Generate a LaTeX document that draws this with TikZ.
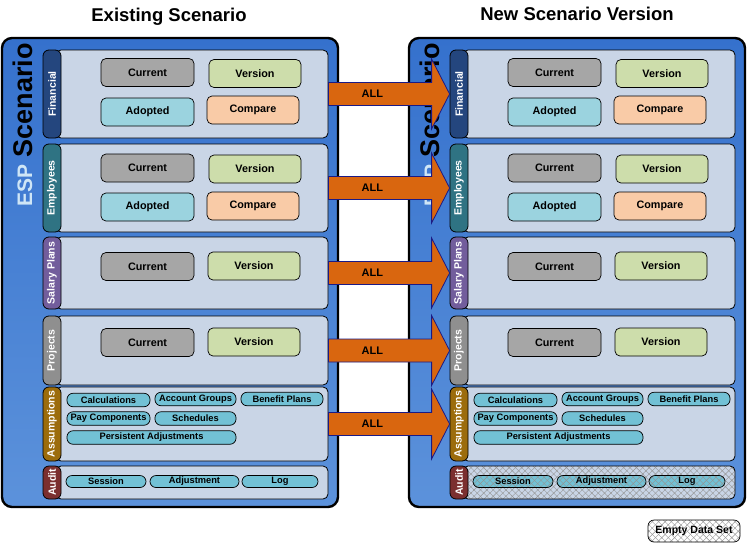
\documentclass[tikz,border=0pt]{standalone}
\usepackage{fontspec}
\setmainfont{Liberation Sans}
\usetikzlibrary{patterns.meta,calc}
\definecolor{espTop}{HTML}{3571CD}
\definecolor{espBot}{HTML}{5C92DB}
\definecolor{espLight}{HTML}{CFE6F6}
\definecolor{panelC}{HTML}{C9D5E6}
\definecolor{curC}{HTML}{A6A6A6}
\definecolor{adoC}{HTML}{9BD3DF}
\definecolor{verC}{HTML}{CDDDAB}
\definecolor{cmpC}{HTML}{F9CBA7}
\definecolor{pillC}{HTML}{72C1D5}
\definecolor{finC}{HTML}{24467E}
\definecolor{empC}{HTML}{2F7383}
\definecolor{salC}{HTML}{725D9C}
\definecolor{proC}{HTML}{8F8F8F}
\definecolor{assC}{HTML}{9C6C0C}
\definecolor{audC}{HTML}{7B2F2F}
\definecolor{arrowC}{HTML}{D9660F}
\definecolor{arrowEdge}{HTML}{1A1A86}
\begin{document}
\begin{tikzpicture}[x=1pt,y=-1pt,
 outer/.style={draw=black,line width=2.4pt,rounded corners=10pt,top color=espTop,bottom color=espBot,minimum width=336pt,minimum height=469pt,inner sep=0pt},
 sect/.style={draw=black,line width=0.8pt,rounded corners=5pt,fill=panelC,minimum width=272pt,inner sep=0pt},
 tab/.style={draw=black,line width=0.8pt,rounded corners=6pt,minimum height=18pt,inner sep=0pt,rotate=90,text=white,font=\bfseries\fontsize{10.5}{12}\selectfont},
 bx/.style={draw=black,line width=0.7pt,rounded corners=5pt,minimum width=93pt,minimum height=28pt,inner sep=0pt,font=\bfseries\fontsize{10.8}{12}\selectfont},
 pill/.style={draw=black,line width=0.7pt,rounded corners=6pt,fill=pillC,minimum height=13.5pt,inner sep=0pt,font=\bfseries\fontsize{9.3}{10}\selectfont},
 allar/.style={draw=arrowEdge,line width=0.8pt,fill=arrowC},
 lab/.style={font=\bfseries\fontsize{11}{12}\selectfont},
 title/.style={font=\bfseries\fontsize{18.5}{20}\selectfont},
 nohatch/.style={},
 hatchpp/.style={path picture={
   \fill[pattern={Lines[angle=45,distance=4.5pt,line width=0.4pt]},pattern color=gray!85]
     (path picture bounding box.south west) rectangle (path picture bounding box.north east);
   \fill[pattern={Lines[angle=-45,distance=4.5pt,line width=0.4pt]},pattern color=gray!85]
     (path picture bounding box.south west) rectangle (path picture bounding box.north east);}}
]
\useasboundingbox (0,0) rectangle (747,544);
\fill[white] (0,0) rectangle (747,544);

\node[title] (t1) at (169,17) {Existing Scenario};
\node[title] (t2) at (577,14) {New Scenario Version};

\foreach \s/\o/\h in {L/0/nohatch,R/407/hatchpp}{
\begin{scope}[xshift=\o pt]
  \node[outer] (pan\s) at (170,272.5) {};
  \node[rotate=90,font=\bfseries\fontsize{27}{28}\selectfont] (esp\s) at (22.5,125)
     {{\color{espLight}\fontsize{21}{22}\selectfont ESP} Scenario};
  % sections
  \node[sect,minimum height=88pt] (fin\s) at (192,94) {};
  \node[sect,minimum height=88pt] (emp\s) at (192,188) {};
  \node[sect,minimum height=72pt] (sal\s) at (192,273) {};
  \node[sect,minimum height=69pt] (pro\s) at (192,350.5) {};
  \node[sect,minimum height=74pt] (ass\s) at (192,424) {};
  \node[sect,minimum height=33pt,\h] (aud\s) at (192,482.5) {};
  % tabs
  \node[tab,fill=finC,minimum width=88pt] (fintab\s) at (52,94) {Financial};
  \node[tab,fill=empC,minimum width=88pt] (emptab\s) at (52,188) {Employees};
  \node[tab,fill=salC,minimum width=72pt] (saltab\s) at (52,273) {Salary Plans};
  \node[tab,fill=proC,minimum width=69pt] (protab\s) at (52,350.5) {Projects};
  \node[tab,fill=assC,minimum width=74pt] (asstab\s) at (52,424) {Assumptions};
  \node[tab,fill=audC,minimum width=33pt] (audtab\s) at (52,482.5) {Audit};
  % financial
  \node[bx,fill=curC] (fcur\s) at (147.5,72.5) {Current};
  \node[bx,fill=verC,minimum width=92pt] (fver\s) at (255,73.5) {Version};
  \node[bx,fill=adoC] (fado\s) at (147.5,112) {Adopted};
  \node[bx,fill=cmpC,minimum width=92pt] (fcmp\s) at (253,110) {Compare};
  % employees
  \node[bx,fill=curC] (ecur\s) at (147.5,168) {Current};
  \node[bx,fill=verC,minimum width=92pt] (ever\s) at (255,169) {Version};
  \node[bx,fill=adoC] (eado\s) at (147.5,207) {Adopted};
  \node[bx,fill=cmpC,minimum width=92pt] (ecmp\s) at (253,206) {Compare};
  % salary plans
  \node[bx,fill=curC] (scur\s) at (147.5,266.5) {Current};
  \node[bx,fill=verC,minimum width=92pt] (sver\s) at (254,266) {Version};
  % projects
  \node[bx,fill=curC] (pcur\s) at (147.5,342.5) {Current};
  \node[bx,fill=verC,minimum width=92pt] (pver\s) at (254,342) {Version};
  % assumptions
  \node[pill,minimum width=83pt] (acal\s) at (108.5,400) {Calculations};
  \node[pill,minimum width=81pt] (aacc\s) at (195.5,399) {Account Groups};
  \node[pill,minimum width=82pt] (aben\s) at (282,399) {Benefit Plans};
  \node[pill,minimum width=83pt] (apay\s) at (108.5,418.5) {Pay Components};
  \node[pill,minimum width=81pt] (asch\s) at (195.5,418.5) {Schedules};
  \node[pill,minimum width=169pt] (aper\s) at (151.5,437.5) {Persistent Adjustments};
  % audit
  \node[pill,minimum width=80pt,minimum height=12pt,\h] (uses\s) at (106,481.5) {Session};
  \node[pill,minimum width=89pt,minimum height=12pt,\h] (uadj\s) at (194.5,481.5) {Adjustment};
  \node[pill,minimum width=76pt,minimum height=12pt,\h] (ulog\s) at (280,481.5) {Log};
\end{scope}
}

% arrows
\foreach \a/\b/\c in {finL/fintabR/allfin,empL/emptabR/allemp,salL/saltabR/allsal,proL/protabR/allpro,assL/asstabR/allass}{
  \draw[allar] let \p1=(\a.east), \p2=(\b.north) in
    (\x1,\y1+11.5pt) -- (\x2-18pt,\y1+11.5pt) -- (\x2-18pt,\y1+35pt) -- (\x2,\y1)
    -- (\x2-18pt,\y1-35pt) -- (\x2-18pt,\y1-11.5pt) -- (\x1,\y1-11.5pt) -- cycle;
  \path let \p1=(\a.east) in node[lab] (\c) at (\x1+44pt,\y1) {ALL};
}

% legend
\node[draw=black,line width=0.7pt,rounded corners=6pt,fill=white,hatchpp,minimum width=92pt,minimum height=22pt,inner sep=0pt,font=\bfseries\fontsize{10.5}{11}\selectfont] (legend) at (694,531) {Empty Data Set};
\end{tikzpicture}
\end{document}
